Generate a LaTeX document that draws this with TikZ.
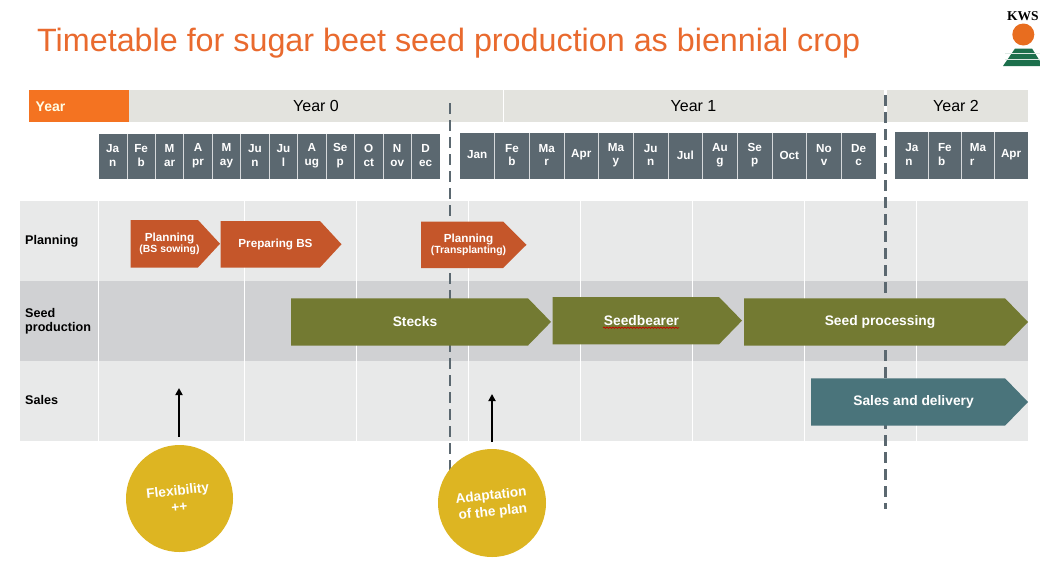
\documentclass[tikz,border=0pt]{standalone}
\usepackage{fontspec}
\setmainfont{Liberation Sans}
\usetikzlibrary{decorations.pathmorphing,arrows.meta}
\definecolor{barg}{HTML}{E3E3DE}
\definecolor{yearor}{HTML}{F47321}
\definecolor{titleor}{HTML}{E96A2E}
\definecolor{monthg}{HTML}{5B6870}
\definecolor{rowa}{HTML}{E8E9E9}
\definecolor{rowb}{HTML}{D0D1D3}
\definecolor{rust}{HTML}{C5562A}
\definecolor{olive}{HTML}{737A32}
\definecolor{teal2}{HTML}{4A747B}
\definecolor{gold}{HTML}{DDB522}
\definecolor{kwsg}{HTML}{1C6F4C}
\tikzset{
 x=1pt,y=-1pt,
 yearbar/.style={fill=barg,draw=none},
 yeartxt/.style={font=\fontsize{16}{16}\selectfont,text=black,inner sep=0pt},
 monthbox/.style={fill=monthg,draw=none},
 monthsep/.style={draw=white!75!monthg,line width=0.9pt},
 monthtxt/.style={font=\bfseries\fontsize{11.7}{13.5}\selectfont,text=white,align=center,inner sep=0pt},
 rowtxt/.style={font=\bfseries\fontsize{12.6}{14}\selectfont,text=black,align=left,anchor=west,inner sep=0pt},
 arrtxt/.style={font=\bfseries\fontsize{13.8}{14}\selectfont,text=white,align=center,inner sep=0pt},
 arrsmall/.style={font=\bfseries\fontsize{11.7}{12}\selectfont,text=white,align=center,inner sep=0pt},
 gridline/.style={draw=white,line width=1pt},
 cutline/.style={draw=monthg,line width=2.4pt,dash pattern=on 11pt off 6pt},
 pointer/.style={draw=black,line width=2pt,-{Triangle[length=7pt,width=7pt]}},
 bubble/.style={circle,fill=gold,draw=none,minimum size=107pt,inner sep=0pt},
 bubtxt/.style={font=\bfseries\fontsize{13.6}{16.5}\selectfont,text=white,align=center,inner sep=0pt,rotate=6},
}
\newcommand{\pentarrow}[6]{\fill[#6] (#1,#2) -- (#3,#2) -- (#4,{(#2+#5)/2}) -- (#3,#5) -- (#1,#5) -- cycle;}
\begin{document}
\begin{tikzpicture}
\useasboundingbox (0,0) rectangle (1040,563);
\fill[white] (0,0) rectangle (1040,563);
% title
\node[anchor=west,inner sep=0pt,text=titleor,font=\fontsize{32.3}{34}\selectfont] (title) at (37,43) {Timetable for sugar beet seed production as biennial crop};
% year bars
\fill[yearbar] (129,90) rectangle (502.5,122);
\fill[yearbar] (503.5,90) rectangle (884,122);
\fill[yearbar] (887,90) rectangle (1027.5,122);
\fill[yearor] (28.5,90) rectangle (129,122);
\node[anchor=west,inner sep=0pt,font=\bfseries\fontsize{14}{14}\selectfont,text=white!90!yellow] (yr) at (35.5,106.5) {Year};
\node[yeartxt] (y0) at (316,106) {Year 0};
\node[yeartxt] (y1) at (693.5,106) {Year 1};
\node[yeartxt] (y2) at (956,106) {Year 2};
% months Y0
\fill[monthbox] (98.5,133.5) rectangle (440,178.5);
\foreach \t [count=\i from 0] in {Ja\\n,Fe\\b,M\\ar,A\\pr,M\\ay,Ju\\n,Ju\\l,A\\ug,Se\\p,O\\ct,N\\ov,D\\ec}{
  \pgfmathsetmacro{\xc}{98.5+28.45*\i+14.2}
  \node[monthtxt] (ma\i) at (\xc,155.5) {\t};
}
\foreach \i in {1,...,11}{
  \pgfmathsetmacro{\xa}{98.5+28.45*\i}
  \draw[monthsep] (\xa,133.5) -- (\xa,178.5);
}
% months Y1
\fill[monthbox] (460,132.5) rectangle (876,178.5);
\foreach \t [count=\i from 0] in {Jan,Fe\\b,Ma\\r,Apr,Ma\\y,Ju\\n,Jul,Au\\g,Se\\p,Oct,No\\v,De\\c}{
  \pgfmathsetmacro{\xc}{460+34.67*\i+17.3}
  \node[monthtxt] (mb\i) at (\xc,155) {\t};
}
\foreach \i in {1,...,11}{
  \pgfmathsetmacro{\xa}{460+34.67*\i}
  \draw[monthsep] (\xa,132.5) -- (\xa,178.5);
}
% months Y2
\fill[monthbox] (895.3,132) rectangle (1027.7,178.5);
\foreach \t [count=\i from 0] in {Ja\\n,Fe\\b,Ma\\r,Apr}{
  \pgfmathsetmacro{\xc}{895.3+33.1*\i+16.5}
  \node[monthtxt,align=left] (mc\i) at (\xc,154.5) {\t};
}
\foreach \i in {1,2,3}{
  \pgfmathsetmacro{\xa}{895.3+33.1*\i}
  \draw[monthsep] (\xa,132) -- (\xa,178.5);
}
% rows
\fill[rowa] (20,201) rectangle (1027.5,281);
\fill[rowb] (20,281) rectangle (1027.5,361);
\fill[rowa] (20,361) rectangle (1027.5,441);
\foreach \x in {98.5,244.5,356.5,468.5,580,692.5,804,916.5}{
  \draw[gridline] (\x,201) -- (\x,441);
}
\node[rowtxt] (r1) at (25,241) {Planning};
\node[rowtxt] (r2) at (25,321) {Seed\\production};
\node[rowtxt] (r3) at (25,400) {Sales};
% cut lines
\draw[cutline] (450,103) -- (450,472);
\draw[cutline] (885.5,95) -- (885.5,509);
% arrows
\pentarrow{130.5}{220}{198}{220}{267.5}{rust}
\node[arrsmall] (a1) at (169.5,244) {Planning\\[-1pt]\fontsize{10.4}{11}\selectfont(BS sowing)};
\pentarrow{220.5}{221}{320}{341.5}{267.5}{rust}
\node[arrtxt,font=\bfseries\fontsize{11.7}{12}\selectfont] (a2) at (275.5,244) {Preparing BS};
\pentarrow{421}{221.5}{503}{526.5}{268}{rust}
\node[arrsmall] (a3) at (468.5,245) {Planning\\[-1pt]\fontsize{10.4}{11}\selectfont(Transplanting)};
\pentarrow{291}{298.3}{528}{551}{345.5}{olive}
\node[arrtxt] (a4) at (415,322) {Stecks};
\pentarrow{552.5}{297}{719}{742}{344.3}{olive}
\node[arrtxt] (a5) at (641.5,321) {Seedbearer};
\draw[red!80!black,line width=0.7pt,decorate,decoration={snake,amplitude=0.7pt,segment length=3pt}] (603,327.7) -- (679,327.7);
\pentarrow{744}{298.3}{1005}{1028}{345.7}{olive}
\node[arrtxt] (a6) at (880,322) {Seed processing};
\pentarrow{811}{378.3}{1005}{1028}{425.7}{teal2}
\node[arrtxt] (a7) at (913.5,402) {Sales and delivery};
% bubbles
\coordinate (p1s) at (179,437);
\coordinate (p1e) at (179,388);
\coordinate (p2s) at (492,442);
\coordinate (p2e) at (492,394);
\draw[pointer] (p1s) -- (p1e);
\draw[pointer] (p2s) -- (p2e);
\node[bubble] (b1) at (179.5,498.5) {};
\node[bubtxt] (b1t) at (178.5,498.5) {Flexibility\\++};
\node[bubble,minimum size=108pt] (b2) at (492,503) {};
\node[bubtxt] (b2t) at (492,504.5) {Adaptation\\of the plan};
% logo
\node[inner sep=0pt,font=\fontspec{Liberation Serif}\bfseries\fontsize{13.5}{13.5}\selectfont,anchor=west] (kws) at (1007,16) {KWS};
\fill[yearor!95!black] (1023.3,34.5) circle (11);
\fill[kwsg] (1015,48.5) -- (1032,48.5) -- (1043,66) -- (1003,66) -- cycle;
\fill[white!85!kwsg] (1005,52.5) rectangle (1040,53.8);
\fill[white!85!kwsg] (1005,59) rectangle (1040,60.2);
\end{tikzpicture}
\end{document}
